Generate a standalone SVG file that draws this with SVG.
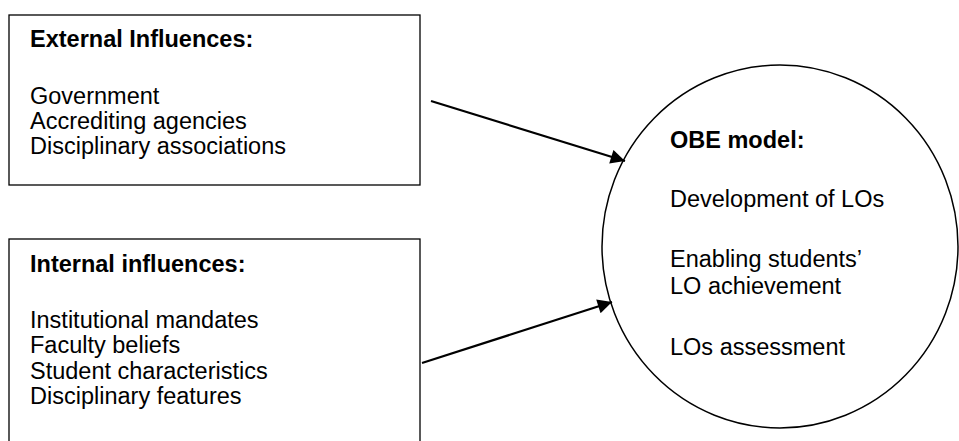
<svg xmlns="http://www.w3.org/2000/svg" width="959" height="441" viewBox="0 0 959 441">
<style>
text{font-family:"Liberation Sans",Arial,sans-serif;font-size:23.5px;fill:#000}
.b{font-weight:bold}
.box{fill:#fff;stroke:#000;stroke-width:1.3}
.edge{stroke:#000;stroke-width:2.2;fill:none}
</style>
<defs>
<marker id="ah" viewBox="0 0 10 10" refX="10" refY="5" markerWidth="8" markerHeight="6.5" markerUnits="strokeWidth" orient="auto">
<path d="M0,0 L10,5 L0,10 z" fill="#000"/>
</marker>
</defs>
<rect width="959" height="441" fill="#fff"/>
<g id="external">
<rect class="box" x="9" y="15" width="411" height="170"/>
<text class="b" x="30" y="47">External Influences:</text>
<text x="30" y="104">Government</text>
<text x="30" y="129">Accrediting agencies</text>
<text x="30" y="154">Disciplinary associations</text>
</g>
<g id="internal">
<rect class="box" x="9" y="239" width="411" height="220"/>
<text class="b" x="30" y="272">Internal influences:</text>
<text x="30" y="328">Institutional mandates</text>
<text x="30" y="353">Faculty beliefs</text>
<text x="30" y="379">Student characteristics</text>
<text x="30" y="404">Disciplinary features</text>
</g>
<g id="obe">
<ellipse cx="780" cy="246.5" rx="178" ry="181.5" fill="none" stroke="#000" stroke-width="1.5"/>
<text class="b" x="670" y="148">OBE model:</text>
<text x="670" y="207">Development of LOs</text>
<text x="670" y="267">Enabling students’</text>
<text x="670" y="294">LO achievement</text>
<text x="670" y="355">LOs assessment</text>
</g>
<g id="connectors">
<line class="edge" x1="431" y1="101" x2="625" y2="161" marker-end="url(#ah)"/>
<line class="edge" x1="422" y1="363" x2="612" y2="302" marker-end="url(#ah)"/>
</g>
</svg>
